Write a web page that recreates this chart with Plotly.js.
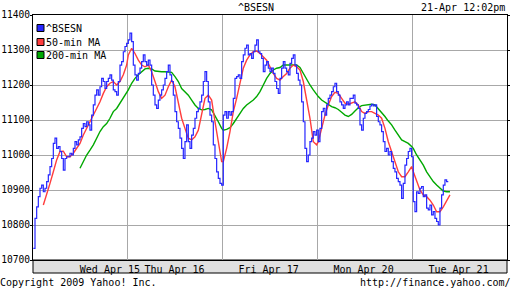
<!DOCTYPE html>
<html>
<head>
<meta charset="utf-8">
<script src="https://cdn.plot.ly/plotly-3.0.1.min.js"></script>
<style>html,body{margin:0;padding:0;background:#fff;}#chart{width:512px;height:288px;}</style>
</head>
<body>
<div id="chart"></div>
<script>
// ---- data ----
const sessionLabels = ['Wed Apr 15', 'Thu Apr 16', 'Fri Apr 17', 'Mon Apr 20', 'Tue Apr 21'];
const sessionLabelAt = [0.81, 1.49, 2.48, 3.48, 4.48];   // in trading days
const sessionBreaks = [1, 2, 3, 4];
const seriesNames = ['^BSESN', '50-min MA', '200-min MA'];

// ^BSESN index, one sample every 1/57 of a session
const bsesnWed = [10733,10819,10852,10881,10905,10914,10895,10905,10924,10943,10967,10990,11033,11048,11019,11024,11010,10990,10957,10990,10995,10995,11005,11000,11019,11038,11029,11043,11052,11076,11090,11081,11095,11086,11071,11114,11143,11171,11186,11171,11195,11219,11210,11190,11210,11219,11229,11214,11186,11181,11171,11210,11257,11267,11295,11310,11319];
const bsesnThu = [11329,11348,11324,11257,11229,11214,11233,11248,11267,11286,11267,11257,11271,11257,11200,11171,11143,11133,11157,11171,11186,11200,11219,11238,11257,11229,11210,11171,11124,11095,11076,11048,11019,10990,11038,11086,11038,11019,11057,11076,11105,11124,11133,11152,11171,11210,11238,11210,11152,11114,11095,11029,10990,10952,10933,10919,10914];
const bsesnFri = [11114,11124,11105,11124,11114,11124,11162,11219,11224,11229,11219,11267,11286,11305,11314,11286,11290,11276,11295,11314,11329,11295,11290,11276,11238,11257,11267,11248,11238,11248,11233,11210,11190,11176,11219,11248,11267,11248,11238,11229,11262,11276,11286,11257,11233,11214,11200,11152,11095,11019,10981,11000,11038,11048,11067,11057,11071];
const bsesnMon = [11038,11076,11124,11133,11114,11143,11162,11171,11181,11195,11205,11181,11171,11152,11143,11133,11143,11152,11143,11162,11162,11171,11148,11143,11133,11086,11071,11105,11119,11124,11130,11140,11145,11140,11143,11110,11095,11086,11067,11038,11010,11019,11000,11010,10981,10962,10952,10933,10924,10914,10876,10919,10971,10990,11010,11019,10995];
const bsesnTue = [10867,10838,10895,10890,10905,10910,10881,10886,10848,10843,10857,10829,10838,10819,10810,10800,10848,10886,10914,10929,10924,10924];

// 50-min moving average, one sample every 2/57 of a session
const ma50Wed = [null,null,null,10857,10886,10919,10952,10986,11010,11011,10995,10995,11005,11019,11033,11057,11076,11095,11114,11133,11152,11176,11195,11205,11210,11200,11210,11229,11257];
const ma50Thu = [11286,11305,11290,11271,11257,11252,11257,11238,11210,11181,11162,11171,11195,11214,11195,11152,11105,11076,11048,11043,11052,11071,11114,11162,11171,11157,11095,11038,10981];
const ma50Fri = [10981,11019,11067,11124,11162,11210,11248,11271,11286,11295,11297,11290,11281,11271,11252,11233,11219,11214,11224,11233,11248,11257,11252,11243,11210,11162,11105,11038,11029];
const ma50Mon = [11038,11076,11114,11143,11167,11179,11176,11162,11148,11145,11148,11152,11143,11124,11119,11124,11124,11119,11114,11105,11076,11038,11010,10981,10952,10938,10938,10952,10967];
const ma50Tue = [10952,10924,10900,10886,10881,10871,10857,10838,10838,10852,10871,10886];

// 200-min moving average, one sample every 2/57 of a session
const ma200Wed = [null,null,null,null,null,null,null,null,null,null,null,null,null,null,10962,10981,11000,11014,11029,11048,11067,11081,11090,11105,11124,11133,11148,11162,11176];
const ma200Thu = [11186,11205,11219,11229,11238,11246,11248,11246,11240,11238,11238,11238,11238,11236,11224,11210,11190,11181,11171,11157,11143,11133,11129,11130,11133,11129,11114,11095,11076];
const ma200Fri = [11071,11073,11078,11090,11105,11119,11133,11143,11150,11157,11167,11181,11200,11219,11233,11243,11248,11250,11257,11257,11257,11257,11257,11250,11233,11214,11200,11186,11171];
const ma200Mon = [11167,11157,11150,11145,11138,11135,11130,11122,11114,11110,11116,11126,11135,11141,11143,11145,11145,11143,11133,11122,11110,11097,11086,11071,11057,11043,11038,11033,11024];
const ma200Tue = [11019,11000,10986,10971,10952,10938,10924,10914,10905,10897,10895,10895];

const seriesColors = ['#2626ff', '#ff3d3d', '#00a800'];

// ---- helpers ----
const SLOTS = 57;
function sessionTimes(day, n, stride) {
  const out = [];
  for (let j = 0; j < n; j++) out.push(day + (0.2 + j * stride) / SLOTS);
  return out;
}
function build(days, stride) {
  let x = [], y = [];
  days.forEach((vals, d) => {
    x = x.concat(sessionTimes(d, vals.length, stride));
    y = y.concat(vals);
  });
  return {x, y};
}

const FONT = 'DejaVu Sans Mono, Liberation Mono, monospace';
const blue = build([bsesnWed, bsesnThu, bsesnFri, bsesnMon, bsesnTue], 1);
const red = build([ma50Wed, ma50Thu, ma50Fri, ma50Mon, ma50Tue], 2);
const green = build([ma200Wed, ma200Thu, ma200Fri, ma200Mon, ma200Tue], 2);

const traces = [
  {x: green.x, y: green.y, type: 'scatter', mode: 'lines', name: seriesNames[2],
   line: {color: seriesColors[2], width: 1.4}, showlegend: false, hoverinfo: 'skip'},
  {x: red.x, y: red.y, type: 'scatter', mode: 'lines', name: seriesNames[1],
   line: {color: seriesColors[1], width: 1.4}, showlegend: false, hoverinfo: 'skip'},
  {x: blue.x, y: blue.y, type: 'scatter', mode: 'lines', name: seriesNames[0],
   line: {color: seriesColors[0], width: 1.2, shape: 'hv'}, showlegend: false, hoverinfo: 'skip'}
];

const shapes = [
  {type: 'rect', xref: 'paper', yref: 'paper', x0: 0, x1: 1,
   ysizemode: 'pixel', yanchor: 0, y0: -13, y1: 0,
   fillcolor: '#e0e0e0', line: {color: '#000', width: 1}, layer: 'below'}
];
const annotations = [];
const legendRows = [-13, -27, -40];
seriesNames.forEach((name, i) => {
  shapes.push({type: 'rect', xref: 'paper', yref: 'paper',
    xsizemode: 'pixel', xanchor: 0, x0: 4, x1: 11,
    ysizemode: 'pixel', yanchor: 1, y0: legendRows[i] - 3.5, y1: legendRows[i] + 3.5,
    fillcolor: seriesColors[i], line: {color: '#000', width: 1}});
  annotations.push({text: name, xref: 'paper', yref: 'paper', x: 0, y: 1,
    xanchor: 'left', yanchor: 'middle', xshift: 11, yshift: legendRows[i],
    showarrow: false, font: {family: FONT, size: 10, color: '#000'}});
});
annotations.push({text: '21-Apr 12:02pm', xref: 'paper', yref: 'paper', x: 1, y: 1,
  xanchor: 'right', yanchor: 'middle', xshift: 0, yshift: 8, showarrow: false,
  font: {family: FONT, size: 10, color: '#000'}});
annotations.push({text: 'Copyright 2009 Yahoo! Inc.', xref: 'paper', yref: 'paper', x: 0, y: 0,
  xanchor: 'left', yanchor: 'middle', xshift: -35, yshift: -22, showarrow: false,
  font: {family: FONT, size: 10, color: '#000'}});
annotations.push({text: 'http://finance.yahoo.com/', xref: 'paper', yref: 'paper', x: 1, y: 0,
  xanchor: 'right', yanchor: 'middle', xshift: 6, yshift: -22, showarrow: false,
  font: {family: FONT, size: 10, color: '#000'}});

const layout = {
  width: 512, height: 288,
  margin: {l: 33, r: 5, t: 15, b: 28, pad: 0},
  paper_bgcolor: '#fff', plot_bgcolor: '#fff',
  showlegend: false,
  title: {text: '^BSESN', font: {family: FONT, size: 10, color: '#000'},
          x: 0.5, xref: 'container', xanchor: 'center', y: 0.975, yref: 'container', yanchor: 'middle'},
  xaxis: {
    range: [0, 4.99], tickmode: 'array', tickvals: sessionLabelAt, ticktext: sessionLabels,
    ticks: '', showgrid: false, zeroline: false,
    minor: {tickmode: 'array', tickvals: sessionBreaks, showgrid: true, gridcolor: '#a8a8a8', gridwidth: 1, ticks: ''},
    showline: true, linecolor: '#000', linewidth: 1, mirror: true,
    tickfont: {family: FONT, size: 10, color: '#000'}, fixedrange: true
  },
  yaxis: {
    range: [10700, 11400], tick0: 10700, dtick: 100, tickformat: 'd',
    showgrid: true, gridcolor: '#a8a8a8', gridwidth: 1, zeroline: false,
    ticks: 'outside', ticklen: 2, tickcolor: '#000', tickwidth: 1,
    ticklabelstandoff: -2,
    showline: true, linecolor: '#000', linewidth: 1, mirror: 'ticks',
    tickfont: {family: FONT, size: 9.6, color: '#000'}, fixedrange: true
  },
  shapes: shapes,
  annotations: annotations
};

Plotly.newPlot('chart', traces, layout, {staticPlot: true, displayModeBar: false});
</script>
</body>
</html>
